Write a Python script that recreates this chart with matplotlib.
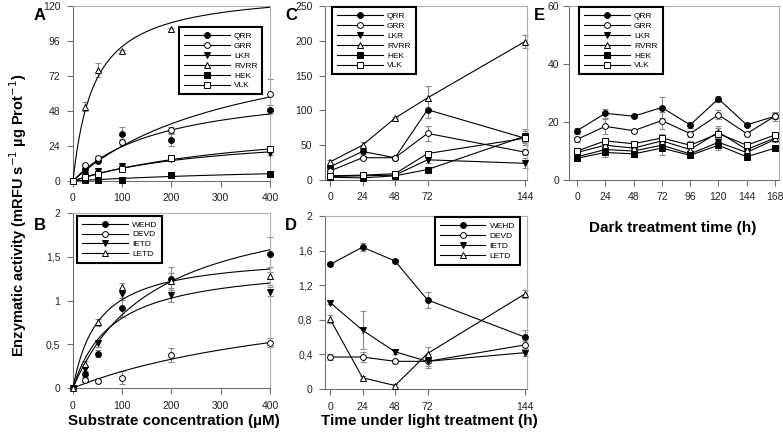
import numpy as np
import matplotlib
matplotlib.use("Agg")
import matplotlib.pyplot as plt

plt.rcParams['font.family'] = ['Liberation Sans', 'DejaVu Sans']

# ---- panel A: substrate concentration, cathepsin-like substrates
conc = [0, 25, 50, 100, 200, 400]
a_names = ["QRR", "GRR", "LKR", "RVRR", "HEK", "VLK"]
a_vals = {
    "QRR": [0, 8, 14, 32, 28, 49],
    "GRR": [0, 11, 16, 27, 35, 60],
    "LKR": [0, 4, 7, 10, 15, 19],
    "RVRR": [0, 51, 76, 89, 104, np.nan],
    "HEK": [0, 0.5, 1, 1, 4, 5],
    "VLK": [0, 3, 5, 8, 16, 22],
}
a_err = {
    "QRR": [0, 1, 1, 5, 4, 3],
    "GRR": [0, 1, 1, 2, 2, 10],
    "LKR": [0, 0.5, 1, 1, 1, 1],
    "RVRR": [0, 3, 5, 1, 1, 0],
    "HEK": [0, 0.3, 0.3, 0.3, 0.5, 0.5],
    "VLK": [0, 0.5, 0.5, 1, 1, 1],
}
# Michaelis-Menten fit parameters (Vmax, Km)
a_fit = {"QRR": (67, 183), "GRR": (108, 350), "LKR": (35, 300),
         "RVRR": (132, 43), "HEK": (12.5, 600), "VLK": (44, 400)}

# ---- panel B: substrate concentration, caspase-like substrates
b_names = ["WEHD", "DEVD", "IETD", "LETD"]
b_vals = {
    "WEHD": [0, 0.16, 0.39, 0.91, 1.25, 1.53],
    "DEVD": [0, 0.09, 0.08, 0.12, 0.38, 0.52],
    "IETD": [0, 0.22, 0.51, 1.08, 1.06, 1.10],
    "LETD": [0, 0.28, 0.75, 1.15, 1.22, 1.28],
}
b_err = {
    "WEHD": [0, 0.03, 0.04, 0.10, 0.13, 0.20],
    "DEVD": [0, 0.02, 0.02, 0.07, 0.08, 0.05],
    "IETD": [0, 0.03, 0.04, 0.05, 0.08, 0.05],
    "LETD": [0, 0.03, 0.04, 0.05, 0.10, 0.10],
}
b_fit = {"WEHD": (2.24, 167), "DEVD": (1.226, 543), "IETD": (1.44, 80), "LETD": (1.537, 52)}

# ---- panel C: light treatment time
light_t = [0, 24, 48, 72, 144]
c_vals = {
    "QRR": [19, 41, 32, 101, 60],
    "GRR": [13, 32, 32, 67, 40],
    "LKR": [5, 6, 7, 29, 24],
    "RVRR": [26, 50, 89, 118, 199],
    "HEK": [4, 3, 6, 15, 63],
    "VLK": [6, 7, 9, 38, 60],
}
c_err = {
    "QRR": [3, 3, 2, 12, 5], "GRR": [2, 2, 2, 11, 4], "LKR": [1, 1, 1, 5, 7],
    "RVRR": [3, 5, 2, 17, 10], "HEK": [1, 1, 1, 2, 10], "VLK": [1, 1, 1, 2, 10],
}

# ---- panel D: light treatment time, caspase-like
d_vals = {
    "WEHD": [1.44, 1.64, 1.48, 1.03, 0.60],
    "DEVD": [0.37, 0.37, 0.32, 0.32, 0.51],
    "IETD": [1.00, 0.68, 0.43, 0.32, 0.42],
    "LETD": [0.81, 0.13, 0.04, 0.41, 1.10],
}
d_err = {
    "WEHD": [0.02, 0.05, 0.02, 0.09, 0.08], "DEVD": [0.03, 0.06, 0.02, 0.05, 0.05],
    "IETD": [0.02, 0.22, 0.02, 0.08, 0.04], "LETD": [0.05, 0.02, 0.02, 0.08, 0.05],
}

# ---- panel E: dark treatment time
dark_t = [0, 24, 48, 72, 96, 120, 144, 168]
e_vals = {
    "QRR": [17, 23, 22, 25, 19, 28, 19, 22],
    "GRR": [14, 18.5, 17, 20.5, 16, 22.5, 16, 22],
    "LKR": [8, 10.5, 10, 12, 9, 13, 9.5, 14],
    "RVRR": [9.5, 12, 11, 13.5, 10.5, 16.5, 10.5, 14.5],
    "HEK": [7.5, 9.5, 9, 11, 8.5, 12, 8, 11],
    "VLK": [10, 13.5, 12.5, 14.5, 12, 16, 12, 15.5],
}
e_err = {
    "QRR": [1, 1.5, 0.5, 3.5, 1, 1, 0.5, 1.5], "GRR": [1, 2.5, 0.5, 3, 1, 1.5, 0.5, 1],
    "LKR": [1, 1.5, 1, 1.5, 1, 1.5, 1, 1], "RVRR": [1, 1, 1, 2, 1, 2, 1, 1],
    "HEK": [1, 1.5, 1, 2.5, 1, 1.5, 1, 1], "VLK": [1, 1, 0.5, 1.5, 1.5, 2, 1, 1],
}

styles = {
    "QRR": ("o", "black"), "GRR": ("o", "white"), "LKR": ("v", "black"),
    "RVRR": ("^", "white"), "HEK": ("s", "black"), "VLK": ("s", "white"),
    "WEHD": ("o", "black"), "DEVD": ("o", "white"), "IETD": ("v", "black"),
    "LETD": ("^", "white"),
}

fig = plt.figure(figsize=(7.83, 4.33), dpi=100)
axA = fig.add_axes([0.0932, 0.582, 0.2516, 0.404])
axB = fig.add_axes([0.0932, 0.1039, 0.2516, 0.404])
axC = fig.add_axes([0.4151, 0.5843, 0.258, 0.4018])
axD = fig.add_axes([0.4151, 0.1016, 0.258, 0.3995])
axE = fig.add_axes([0.7267, 0.5843, 0.2682, 0.4018])


def style_ax(ax):
    for s in ["top", "right"]:
        ax.spines[s].set_color("#b0b0b0")
        ax.spines[s].set_linewidth(0.8)
    for s in ["left", "bottom"]:
        ax.spines[s].set_color("#707070")
        ax.spines[s].set_linewidth(0.8)
    ax.tick_params(direction="out", length=4, width=0.8, color="#707070",
                   labelsize=7.5, labelcolor="#222222", pad=5)


def draw_series(ax, x, names, vals, errs, fits=None):
    for n in names:
        mk, fc = styles[n]
        y = np.array(vals[n], dtype=float)
        ax.errorbar(x, y, yerr=errs[n], fmt="none", ecolor="#8a8a8a",
                    elinewidth=0.8, capsize=2, capthick=0.8, clip_on=False, zorder=2)
        if fits is None:
            ax.plot(x, y, "-", color="black", lw=0.8, marker=mk, mfc=fc, mec="black",
                    mew=0.7, ms=4.2, clip_on=False, zorder=3, label=n)
        else:
            xs = np.linspace(0, x[-1], 200)
            vm, km = fits[n]
            ax.plot(xs, vm * xs / (km + xs), "-", color="black", lw=0.8, zorder=3)
            ax.plot(x, y, "none", marker=mk, mfc=fc, mec="black", mew=0.7, ms=4.2,
                    clip_on=False, zorder=4)
            ax.plot([], [], "-", color="black", lw=0.8, marker=mk, mfc=fc, mec="black",
                    mew=0.7, ms=4.2, label=n)


def add_legend(ax, loc, anchor):
    leg = ax.legend(loc=loc, bbox_to_anchor=anchor, borderaxespad=0, fontsize=6,
                    handlelength=5.5, labelspacing=0.25, fancybox=False,
                    framealpha=1, borderpad=0.6, handletextpad=0.5)
    leg.get_frame().set_edgecolor("black")
    leg.get_frame().set_linewidth(1.5)


# A
draw_series(axA, conc, a_names, a_vals, a_err, a_fit)
axA.set_xlim(0, 400)
axA.set_ylim(0, 120)
axA.set_xticks([0, 100, 200, 300, 400])
axA.set_yticks([0, 24, 48, 72, 96, 120])
style_ax(axA)
add_legend(axA, "upper left", (0.538, 0.88))

# B
draw_series(axB, conc, b_names, b_vals, b_err, b_fit)
axB.set_xlim(0, 400)
axB.set_ylim(0, 2)
axB.set_xticks([0, 100, 200, 300, 400])
axB.set_yticks([0, 0.5, 1, 1.5, 2])
axB.set_yticklabels(["0", "0,5", "1", "1,5", "2"])
style_ax(axB)
add_legend(axB, "upper left", (0.02, 0.985))

# C
draw_series(axC, light_t, a_names, c_vals, c_err)
axC.set_xlim(-3.7, 145.5)
axC.set_ylim(0, 250)
axC.set_xticks(light_t)
axC.set_yticks([0, 50, 100, 150, 200, 250])
style_ax(axC)
add_legend(axC, "upper left", (0.035, 0.994))

# D
draw_series(axD, light_t, b_names, d_vals, d_err)
axD.set_xlim(-3.7, 145.5)
axD.set_ylim(0, 2)
axD.set_xticks(light_t)
axD.set_yticks([0, 0.4, 0.8, 1.2, 1.6, 2])
axD.set_yticklabels(["0", "0,4", "0,8", "1,2", "1,6", "2"])
style_ax(axD)
add_legend(axD, "upper right", (0.965, 0.994))

# E
draw_series(axE, dark_t, a_names, e_vals, e_err)
axE.set_xlim(-6.8, 171.4)
axE.set_ylim(0, 60)
axE.set_xticks(dark_t)
axE.set_yticks([0, 20, 40, 60])
style_ax(axE)
axE.tick_params(axis="y", pad=3)
add_legend(axE, "upper left", (0.048, 0.994))

# panel letters
for lbl, (px, py) in {"A": (40, 16), "B": (40, 226), "C": (291, 16),
                      "D": (291, 226), "E": (539, 16)}.items():
    fig.text(px / 783, 1 - py / 433, lbl, fontsize=12, fontweight="bold",
             ha="center", va="center")

# shared axis titles
fig.text(18 / 783, 1 - 215 / 433, "Enzymatic activity (mRFU s$^{-1}$ µg Prot$^{-1}$)",
         rotation=90, fontsize=10.5, fontweight="bold", ha="center", va="center")
fig.text(174 / 783, 1 - 421 / 433, "Substrate concentration (µM)",
         fontsize=11, fontweight="bold", ha="center", va="center")
fig.text(429 / 783, 1 - 421 / 433, "Time under light treatment (h)",
         fontsize=11, fontweight="bold", ha="center", va="center")
fig.text(673 / 783, 1 - 228 / 433, "Dark treatment time (h)",
         fontsize=11, fontweight="bold", ha="center", va="center")

fig.savefig("out.png", dpi=100)
